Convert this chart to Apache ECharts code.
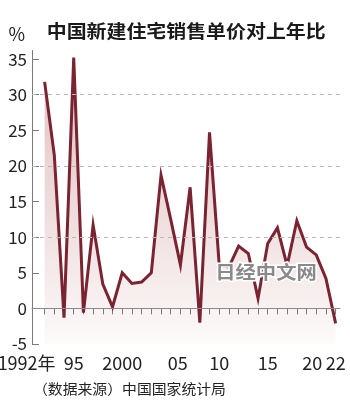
<!DOCTYPE html>
<html><head><meta charset="utf-8">
<script src="https://cdn.jsdelivr.net/npm/echarts@6/dist/echarts.min.js"></script>
<style>html,body{margin:0;padding:0;background:#fff}#c{width:350px;height:408px}</style>
</head><body><div id="c"></div>
<script>
// ---- data ----
const years = [1992,1993,1994,1995,1996,1997,1998,1999,2000,2001,2002,2003,2004,2005,2006,2007,2008,2009,2010,2011,2012,2013,2014,2015,2016,2017,2018,2019,2020,2021,2022];
const growth = [31.8,21.5,-1.3,35.2,-0.6,11.7,3.4,0.2,5.0,3.5,3.7,5.0,18.7,12.5,6.1,17.0,-2.0,24.7,6.1,5.8,8.75,7.7,1.4,9.1,11.3,6.0,12.3,8.6,7.5,4.2,-2.1];
const yTickValues = [-5,0,5,10,15,20,25,30,35];
const dashedGridValues = [10,20,30];
const zeroLineValue = 0;
const xLabelYears = [1992,1995,2000,2005,2010,2015,2020,2022];
const xLabelTexts = ['1992年','95','2000','05','10','15','20','22'];
const titleText = '中国新建住宅销售单价对上年比';
const sourceText = '（数据来源）中国国家统计局';
const watermarkText = '日经中文网';
const unitText = '%';

// ---- chart ----
const NARROW = '"Liberation Sans Narrow","Arial Narrow","Noto Sans CJK SC",sans-serif';
const CJK = '"Noto Sans CJK SC",sans-serif';
const chart = echarts.init(document.getElementById('c'), null, {renderer:'canvas'});

const labelPad = {1992:[0,36,0,0], 2005:[0,0,0,14], 2020:[0,8,0,0]};
const rich = {};
xLabelYears.forEach(y => { rich['y'+y] = {fontSize:18, fontFamily:NARROW, color:'#222', padding: labelPad[y] || [0,0,0,0]}; });

chart.setOption({
  animation:false,
  backgroundColor:'#fff',
  grid:{left:32, right:10, top:50.5, bottom:64, outerBoundsMode:'none', containLabel:false},
  xAxis:{
    type:'value', min:1990.7, max:2022.45,
    axisLine:{show:true, lineStyle:{color:'#7a7a7a', width:1}},
    axisTick:{show:true, length:6, lineStyle:{color:'#7a7a7a'}, customValues: years},
    axisLabel:{show:true, margin:10, customValues: xLabelYears,
      formatter: v => { const i = xLabelYears.indexOf(Math.round(v)); return i < 0 ? '' : '{y'+xLabelYears[i]+'|'+xLabelTexts[i]+'}'; },
      rich: rich},
    splitLine:{show:false}
  },
  yAxis:{
    type:'value', min:-5, max:36.2,
    name: unitText, nameLocation:'end', nameGap:7,
    nameTextStyle:{fontSize:18, fontFamily:NARROW, color:'#222', align:'right', padding:[0,7,0,0]},
    axisLine:{show:true, lineStyle:{color:'#7a7a7a', width:1}},
    axisTick:{show:true, inside:true, length:7, lineStyle:{color:'#7a7a7a'}, customValues: yTickValues},
    axisLabel:{show:true, margin:5, fontSize:17, fontFamily:NARROW, color:'#222', customValues: yTickValues},
    splitLine:{show:false}
  },
  series:[
    {
      type:'line', data:[], z:1, silent:true,
      markLine:{silent:true, symbol:'none', label:{show:false}, animation:false,
        data: dashedGridValues.map(v => ({yAxis:v, lineStyle:{type:[4,4], color:'#b8b8b8', width:1}}))
          .concat([{yAxis:zeroLineValue, lineStyle:{type:'solid', color:'#8a8a8a', width:1}}])}
    },
    {
      type:'line', z:3, symbol:'none', smooth:false,
      data: years.map((y,i) => [y, growth[i]]),
      lineStyle:{color:'#7a2331', width:3, join:'miter'},
      areaStyle:{origin:'start', color: new echarts.graphic.LinearGradient(0,0,0,1,[
        {offset:0, color:'rgba(150,40,40,0.42)'},
        {offset:0.5, color:'rgba(150,40,40,0.24)'},
        {offset:0.75, color:'rgba(150,40,40,0.14)'},
        {offset:1, color:'rgba(150,40,40,0.03)'}
      ])}
    }
  ],
  graphic:[
    {type:'text', x:46.7, y:31, scaleX:1.107, z:10,
      style:{text:titleText, font:'bold 18px '+CJK, fill:'#1a1a1a', align:'left', verticalAlign:'middle', textAlign:'left', textVerticalAlign:'middle'}},
    {type:'text', x:33, y:389, scaleX:1.06, z:10,
      style:{text:sourceText, font:'14px '+CJK, fill:'#222', align:'left', verticalAlign:'middle', textAlign:'left', textVerticalAlign:'middle'}},
    {type:'text', x:266, y:272.5, scaleX:1.13, z:100,
      style:{text:watermarkText, font:'bold 18px '+CJK, fill:'#8a8a8a', stroke:'#ffffff', lineWidth:3,
        align:'center', verticalAlign:'middle', textAlign:'center', textVerticalAlign:'middle',
        shadowColor:'rgba(0,0,0,0.35)', shadowBlur:2, shadowOffsetX:1, shadowOffsetY:1}}
  ]
});
</script>
</body></html>
